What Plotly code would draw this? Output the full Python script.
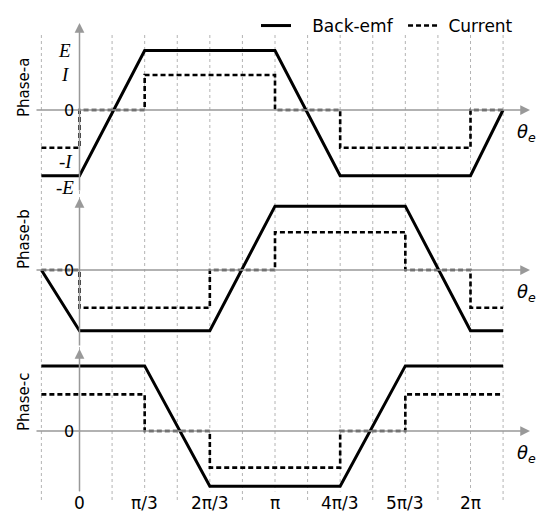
import numpy as np
import plotly.graph_objects as go

PI = np.pi

# ---------------- data (x in units of pi, y in units of ~62 px) ----------------
x_start = -0.195

emf_a_x = [x_start, 0, 1/3, 1, 4/3, 2, 13/6]
emf_a_y = [-1.06, -1.06, 0.96, 0.96, -1.06, -1.06, 0]
cur_a_x = [x_start, 0, 1/3, 1, 4/3, 2, 13/6]
cur_a_y = [-0.61, 0, 0.565, 0, -0.61, 0, 0]

emf_b_x = [x_start, 0, 2/3, 1, 5/3, 2, 13/6]
emf_b_y = [0, -0.98, -0.98, 1.03, 1.03, -0.98, -0.98]
cur_b_x = [x_start, 0, 2/3, 1, 5/3, 2, 13/6]
cur_b_y = [0, -0.61, 0, 0.61, 0, -0.61, -0.61]

emf_c_x = [x_start, 1/3, 2/3, 4/3, 5/3, 13/6]
emf_c_y = [1.05, 1.05, -0.89, -0.89, 1.05, 1.05]
cur_c_x = [x_start, 1/3, 2/3, 4/3, 5/3, 13/6]
cur_c_y = [0.59, 0, -0.59, 0, 0.59, 0.59]

# level labels of phase-a (text, level)
level_text = ["E", "I", "-I", "-E"]
level_vals = [0.96, 0.565, -0.61, -1.06]

grid_x = [x_start, 0, 1/6, 2/6, 3/6, 4/6, 5/6, 1, 7/6, 8/6, 9/6, 10/6, 11/6, 2, 13/6]
tick_vals = [0, 1/3, 2/3, 1, 4/3, 5/3, 2]
tick_text = ["0", "π/3", "2π/3", "π", "4π/3", "5π/3", "2π"]
phase_names = ["Phase-a", "Phase-b", "Phase-c"]
legend_names = ["\u00a0\u00a0\u00a0Back-emf\u00a0", "\u00a0Current"]

# ---------------- layout geometry (window pixels) ----------------
OFF = 8                      # page body margin offset
W, H = 544 - OFF, 515 - OFF  # figure size so it fits the window
X0_PX = 79.5          # window pixel of theta = 0
TWO_PI_PX = 391.0     # pixels for 2*pi
S = 62.0              # pixels per unit amplitude
ZERO_PX = [110, 270, 431]   # zero level of each panel (window px)


def rad(v):
    return np.asarray(v, dtype=float) * PI


def x_of_px(p):
    return (p - X0_PX) / TWO_PI_PX * 2 * PI


def val_of_px(p, k):
    return (ZERO_PX[k] - p) / S


def px_x(p):   # window px -> paper x
    return (p - OFF) / W


def px_y(p):   # window px -> paper y
    return 1 - (p - OFF) / H


fig = go.Figure()

yaxes = ["y", "y2", "y3"]
series = [
    (emf_a_x, emf_a_y, cur_a_x, cur_a_y),
    (emf_b_x, emf_b_y, cur_b_x, cur_b_y),
    (emf_c_x, emf_c_y, cur_c_x, cur_c_y),
]
for k, (ex, ey, cx, cy) in enumerate(series):
    fig.add_trace(go.Scatter(
        x=rad(ex), y=ey, mode="lines", yaxis=yaxes[k],
        line=dict(color="black", width=3), name=legend_names[0],
        legendgroup="emf", showlegend=(k == 0), hoverinfo="skip"))
    fig.add_trace(go.Scatter(
        x=rad(cx), y=cy, mode="lines", yaxis=yaxes[k],
        line=dict(color="black", width=2.6, dash="5px,3px", shape="hv"),
        name=legend_names[1], legendgroup="cur", showlegend=(k == 0),
        hoverinfo="skip"))

shapes = []
for g in grid_x:
    shapes.append(dict(type="line", xref="x", yref="paper",
                       x0=g * PI, x1=g * PI,
                       y0=px_y(500), y1=px_y(32),
                       line=dict(color="#b4b4b4", width=1, dash="dot"),
                       layer="below"))

AX_COL = "#999999"
annotations = []
y_axis_px = [(192, 23), (347, 198), (493, 349)]
for k in range(3):
    yr = yaxes[k]
    # horizontal axis with arrow
    annotations.append(dict(
        xref="x", yref=yr, axref="x", ayref=yr,
        x=x_of_px(530), y=0, ax=x_of_px(35), ay=0,
        text="", showarrow=True, arrowhead=2, arrowsize=1.3,
        arrowwidth=1.5, arrowcolor=AX_COL, standoff=0, startstandoff=0))
    # vertical axis with arrow
    tail, head = y_axis_px[k]
    annotations.append(dict(
        xref="x", yref=yr, axref="x", ayref=yr,
        x=0, y=val_of_px(head, k), ax=0, ay=val_of_px(tail, k),
        text="", showarrow=True, arrowhead=2, arrowsize=1.3,
        arrowwidth=1.5, arrowcolor=AX_COL, standoff=0, startstandoff=0))
    # zero label
    annotations.append(dict(
        xref="paper", yref=yr, x=px_x(69), y=0, text="0", showarrow=False,
        xanchor="center", yanchor="middle",
        font=dict(family="DejaVu Sans", size=16, color="black")))
    # theta_e label
    annotations.append(dict(
        xref="paper", yref="paper", x=px_x(526),
        y=px_y(ZERO_PX[k] + 23),
        text="<i>θ<sub>e</sub></i>", showarrow=False,
        xanchor="center", yanchor="middle",
        font=dict(family="DejaVu Sans", size=18, color="black")))

# phase labels
phase_center_px = [88, 239, 402]
for k, name in enumerate(phase_names):
    annotations.append(dict(
        xref="paper", yref="paper", x=px_x(24), y=px_y(phase_center_px[k]),
        text=name, textangle=-90, showarrow=False,
        xanchor="center", yanchor="middle",
        font=dict(family="DejaVu Sans", size=15, color="black")))

# E / I level labels on phase-a
lvl_font = dict(family="Liberation Serif", size=19, color="black")
lvl_x = [64, 66, 66, 65]
lvl_shift = [0, 0, -14, -12]
for txt, val, xp, ysh in zip(level_text, level_vals, lvl_x, lvl_shift):
    annotations.append(dict(
        xref="paper", yref="y", x=px_x(xp), y=val, yshift=ysh,
        text="<i>%s</i>" % txt, showarrow=False,
        xanchor="center", yanchor="middle", font=lvl_font))

# bottom tick labels
for v, t in zip(tick_vals, tick_text):
    annotations.append(dict(
        xref="x", yref="paper", x=v * PI, y=px_y(503), text=t,
        showarrow=False, xanchor="center", yanchor="middle",
        bgcolor="white",
        font=dict(family="DejaVu Sans", size=17, color="black")))

ax_common = dict(visible=False, showgrid=False, zeroline=False, fixedrange=True)
layout_y = {}
for k, name in enumerate(["yaxis", "yaxis2", "yaxis3"]):
    d = dict(ax_common, domain=[0, 1],
             range=[val_of_px(515, k), val_of_px(OFF, k)])
    if k > 0:
        d["overlaying"] = "y"
    layout_y[name] = d

fig.update_layout(
    width=W, height=H,
    margin=dict(l=0, r=0, t=0, b=0, autoexpand=False),
    paper_bgcolor="white", plot_bgcolor="white",
    xaxis=dict(ax_common, domain=[0, 1],
               range=[x_of_px(OFF), x_of_px(544)]),
    shapes=shapes, annotations=annotations,
    showlegend=True,
    legend=dict(orientation="h", x=px_x(256), y=px_y(OFF),
                xanchor="left", yanchor="top",
                bgcolor="rgba(0,0,0,0)", borderwidth=0,
                font=dict(family="DejaVu Sans", size=17, color="black"),
                itemwidth=30, tracegroupgap=0, indentation=0),
    **layout_y,
)

fig.write_html("out.html")
